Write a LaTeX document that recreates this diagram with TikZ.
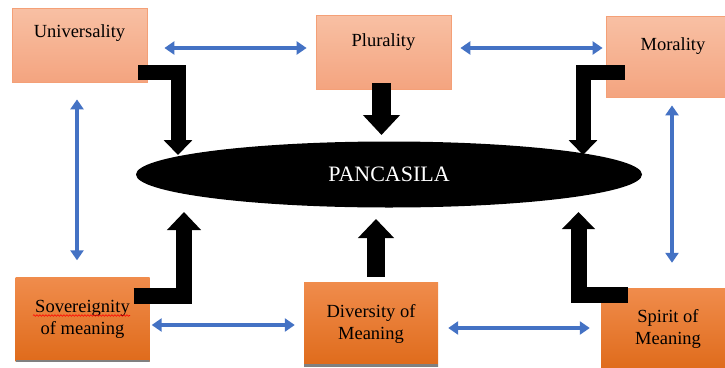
\documentclass[tikz,border=0pt]{standalone}
\usepackage{xcolor}
\usepackage{fontspec}
\setmainfont{Liberation Serif}
\usepackage{tikz}
\usetikzlibrary{shapes.geometric,arrows.meta,decorations.pathmorphing}
\definecolor{peachtop}{HTML}{F8C0A4}
\definecolor{peachbot}{HTML}{F4A47F}
\definecolor{peachline}{HTML}{F4A077}
\definecolor{orangetop}{HTML}{F08C4C}
\definecolor{orangebot}{HTML}{DF6B1B}
\definecolor{linkblue}{HTML}{4472C4}

\begin{document}
\begin{tikzpicture}[x=1pt,y=-1pt,
    lightbox/.style={rectangle, draw=peachline, line width=0.8pt, top color=peachtop, bottom color=peachbot, minimum width=135pt, minimum height=74pt},
    darkbox/.style={rectangle, top color=orangetop, bottom color=orangebot, minimum width=134pt, minimum height=84pt, align=center, font=\fontsize{18.5}{21.5}\selectfont,
        path picture={\draw[line width=4pt, black!50] (path picture bounding box.south west) -- (path picture bounding box.south east);}},
    boxtext/.style={font=\fontsize{18.5}{21.5}\selectfont},
    link/.style={linkblue, line width=4pt, {Triangle[width=13pt,length=10pt]}-{Triangle[width=13pt,length=10pt]}},
    feed/.style={black, line width=15pt, -{Triangle[width=28pt,length=15pt]}}]
    \useasboundingbox (0,0) rectangle (725,367);

    \node[lightbox] (uni) at (79.5,45) {};
    \node[boxtext] (unitext) at ([yshift=-25pt]uni.north) {Universality};
    \node[lightbox] (plu) at (383.5,52) {};
    \node[boxtext] (plutext) at ([yshift=-27pt]plu.north) {Plurality};
    \node[lightbox, minimum width=134pt, minimum height=81pt] (mor) at (673,56.5) {};
    \node[boxtext] (mortext) at ([yshift=-30pt]mor.north) {Morality};

    \node[darkbox] (sov) at (82.5,319.5) {Sovereignity\\of meaning};
    \node[darkbox] (div) at (371,324) {Diversity of\\Meaning};
    \node[darkbox, minimum height=82pt] (spi) at (668,329) {Spirit of\\Meaning};

    \node[ellipse, fill=black, minimum width=506pt, minimum height=66pt, inner sep=0pt, text=white, font=\fontsize{22}{24}\selectfont] (pan) at (389,174.5) {PANCASILA};

    \coordinate (unitip) at (178,155);
    \coordinate (plutip) at (381.5,135);
    \coordinate (mortip) at (583,155);
    \coordinate (sovtip) at (184,212);
    \coordinate (divtip) at (376,219);
    \coordinate (spitip) at (578.5,212);

    \draw[feed] ([shift={(-9,-10)}]uni.south east) -| (unitip);
    \draw[feed, line width=19pt, -{Triangle[width=36pt,length=20pt]}] ([shift={(-2,-6)}]plu.south) -- (plutip);
    \draw[feed] ([shift={(19,16)}]mor.west) -| (mortip);
    \draw[feed, line width=16pt, -{Triangle[width=33pt,length=18pt]}] ([shift={(-16,19)}]sov.north east) -| (sovtip);
    \draw[feed, line width=18pt, -{Triangle[width=35pt,length=19pt]}] ([shift={(5,-5)}]div.north) -- (divtip);
    \draw[feed, line width=16pt, -{Triangle[width=32pt,length=17pt]}] ([shift={(27,7)}]spi.north west) -| (spitip);

    \draw[link] ([shift={(17,3)}]uni.east) -- ([shift={(-9,-4)}]plu.west);
    \draw[link] ([shift={(9,-4)}]plu.east) -- ([shift={(-3,-8.5)}]mor.west);
    \draw[link] ([shift={(-2.5,17)}]uni.south) -- ([shift={(-5.5,-17)}]sov.north);
    \draw[link] ([shift={(-1,8)}]mor.south) -- ([shift={(4,-25)}]spi.north);
    \draw[link] ([shift={(2,5.5)}]sov.east) -- ([shift={(-9,1)}]div.west);
    \draw[link] ([shift={(10,4)}]div.east) -- ([shift={(-11,-1)}]spi.west);

    \draw[red, line width=0.6pt, decorate, decoration={snake, amplitude=0.8pt, segment length=3pt}] ([shift={(-49.5,-4)}]sov.center) -- ([shift={(47.5,-4)}]sov.center);
\end{tikzpicture}
\end{document}
